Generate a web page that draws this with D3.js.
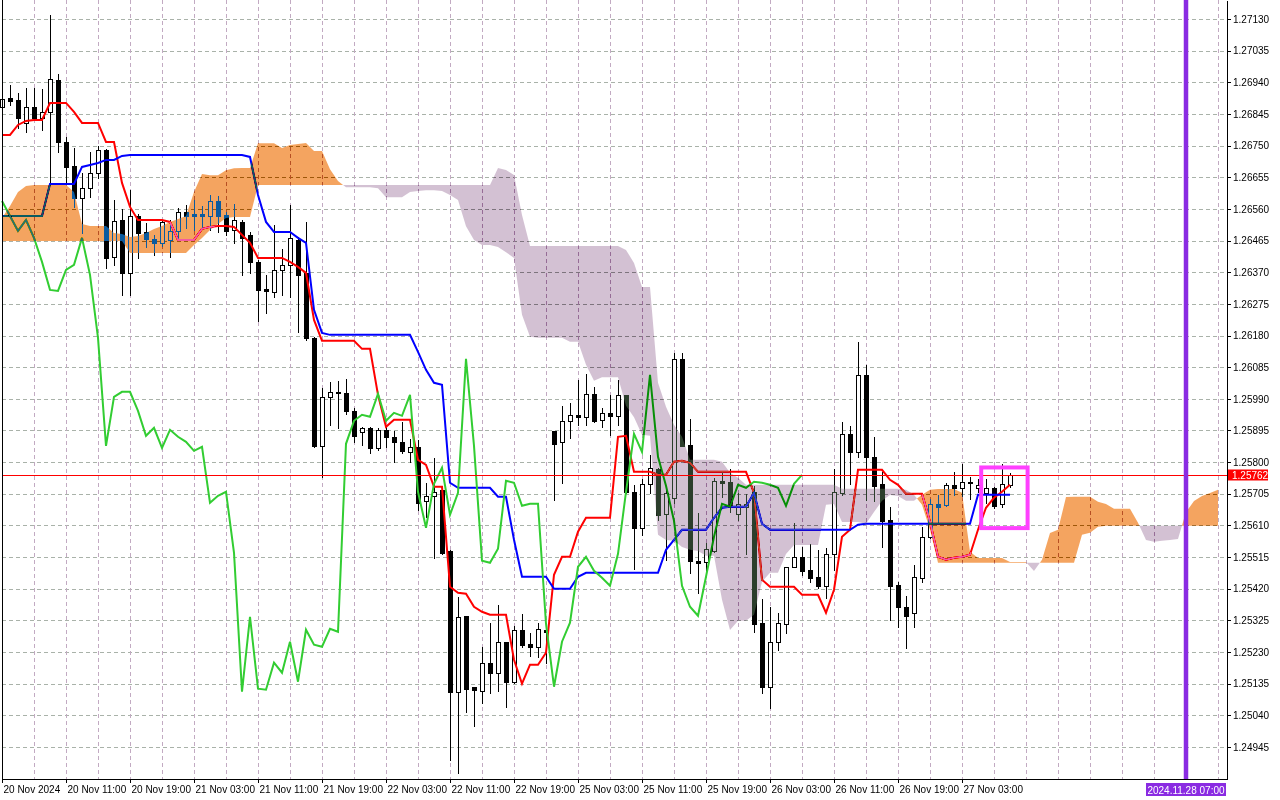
<!DOCTYPE html>
<html><head><meta charset="utf-8">
<script src="https://cdn.jsdelivr.net/npm/d3@7"></script>
<style>
html,body{margin:0;padding:0;background:#fff;}
svg{display:block;}
</style></head><body>
<svg id="chart" width="1280" height="800"></svg>
<script>
// ---------- DATA (H1 candles) ----------
const openP = [
126866,126893,126887,126818,126866,126833,126851,126947,126761,126689,
126593,126623,126668,126737,126416,126527,126368,126539,126491,126470,
126458,126467,126494,126551,126545,126545,126539,126584,126542,126497,
126521,126482,126401,126320,126311,126377,126392,126467,126368,126173,
125849,125996,126008,126008,125954,125891,125903,125843,125897,125876,
125861,125831,125846,125684,125699,125717,125534,125111,125339,125126,
125114,125198,125168,125261,125141,125297,125255,125246,125297,125894,
125861,125924,125942,125936,126005,125927,125948,125939,126002,125711,
125603,125735,125780,125645,125693,126110,125852,125504,125501,125534,
125744,125741,125645,125666,125711,125318,125126,125261,125315,125486,
125516,125477,125456,125429,125525,125708,125885,125831,126062,125816,
125735,125627,125432,125366,125348,125453,125576,125675,125672,125732,
125723,125741,125723,125708,125723,125675,125732].map(v=>v/100000);
const highP = [
126902,126932,126908,126923,126923,126920,127142,126965,126776,126743,
126668,126731,126749,126740,126587,126560,126617,126545,126518,126482,
126527,126527,126563,126572,126587,126569,126602,126599,126551,126575,
126527,126491,126407,126362,126512,126440,126572,126476,126521,126176,
126023,126041,126044,126050,125963,125906,125906,125903,125906,125894,
125921,125870,125867,125738,125813,125717,125537,125396,125339,125126,
125246,125318,125372,125261,125309,125345,125288,125318,125312,125894,
125969,125978,126047,126065,126026,125963,126002,126047,126002,125732,
125750,125822,125783,125717,126128,126128,125930,125648,125558,125753,
125771,125780,125708,125705,125729,125390,125366,125348,125486,125618,
125546,125555,125537,125543,125780,125921,125909,126161,126092,125876,
125771,125666,125441,125399,125492,125606,125690,125702,125738,125771,
125795,125756,125750,125750,125726,125795,125768].map(v=>v/100000);
const lowP = [
126857,126872,126803,126791,126827,126797,126632,126731,126638,126566,
126488,126596,126653,126383,126392,126302,126302,126413,126446,126422,
126449,126416,126467,126503,126497,126506,126497,126491,126482,126458,
126362,126368,126224,126248,126296,126302,126296,126191,126167,125846,
125756,125912,125903,125945,125861,125852,125828,125837,125846,125801,
125828,125801,125657,125636,125513,125525,124907,124868,125051,125009,
125078,125108,125114,125066,125138,125246,125219,125216,125198,125687,
125738,125873,125912,125912,125921,125906,125882,125912,125708,125480,
125582,125708,125627,125507,125678,125849,125468,125408,125468,125531,
125696,125651,125627,125525,125291,125108,125063,125237,125288,125486,
125462,125441,125423,125393,125477,125702,125735,125816,125687,125684,
125546,125327,125306,125243,125306,125441,125573,125621,125669,125702,
125699,125690,125711,125678,125663,125666,125726].map(v=>v/100000);
const closeP = [
126890,126884,126833,126866,126833,126851,126950,126761,126686,126593,
126623,126668,126737,126413,126524,126368,126539,126488,126470,126458,
126521,126494,126551,126539,126539,126539,126584,126539,126494,126527,
126473,126401,126317,126314,126377,126392,126473,126362,126173,125849,
125996,126011,126011,125954,125879,125903,125843,125897,125876,125861,
125834,125846,125678,125699,125711,125528,125111,125336,125120,125117,
125198,125168,125261,125141,125297,125252,125246,125300,125291,125855,
125924,125942,125936,126005,125924,125948,125939,126002,125711,125603,
125735,125783,125642,125708,126110,125849,125504,125498,125540,125744,
125738,125669,125675,125675,125315,125126,125261,125318,125486,125516,
125474,125453,125429,125525,125711,125885,125831,126062,125816,125729,
125624,125429,125366,125339,125456,125576,125675,125666,125732,125723,
125741,125738,125732,125723,125669,125735,125762].map(v=>v/100000);

// Tenkan-sen (red)
const tenkan = [
126782,126782,126812,126824,126827,126827,126878,126878,126878,126851,
126818,126818,126818,126761,126761,126638,126566,126527,126527,126527,
126527,126521,126467,126467,126467,126500,126506,126509,126509,126506,
126482,126458,126413,126413,126413,126413,126401,126386,126368,126227,
126164,126164,126164,126164,126164,126140,126140,126002,125906,125927,
125927,125927,125807,125792,125726,125726,125426,125408,125405,125366,
125351,125342,125342,125342,125207,125135,125192,125192,125228,125462,
125516,125516,125591,125633,125633,125633,125633,125876,125879,125771,
125771,125771,125762,125762,125801,125804,125798,125771,125771,125771,
125771,125771,125771,125771,125708,125447,125426,125426,125426,125426,
125402,125402,125402,125348,125417,125576,125597,125777,125777,125777,
125777,125747,125732,125705,125705,125705,125621,125516,125507,125513,
125516,125522,125597,125663,125693,125711,125732].map(v=>v/100000);
// Kijun-sen (blue)
const kijun = [
126539,126539,126539,126539,126539,126539,126635,126635,126635,126635,
126686,126692,126698,126707,126707,126719,126722,126722,126722,126722,
126722,126722,126722,126722,126722,126722,126722,126722,126722,126722,
126722,126716,126602,126521,126491,126491,126491,126473,126458,126257,
126188,126182,126182,126182,126182,126182,126182,126182,126182,126182,
126182,126182,126131,126077,126038,126032,125738,125723,125723,125723,
125723,125723,125696,125696,125567,125456,125456,125456,125456,125420,
125420,125420,125456,125468,125468,125468,125468,125468,125468,125468,
125468,125468,125468,125537,125567,125597,125597,125597,125597,125633,
125663,125666,125666,125666,125708,125615,125597,125597,125597,125597,
125597,125597,125597,125597,125597,125597,125597,125612,125615,125615,
125615,125615,125615,125615,125615,125615,125615,125615,125615,125615,
125615,125615,125702,125702,125702,125702,125702].map(v=>v/100000);
// Senkou Span A (cloud edge, 26 bars ahead)
const spanA = [
126533,126569,126611,126629,126632,126632,126632,126632,126632,126611,
126515,126509,126509,126509,126488,126485,126476,126479,126488,126500,
126509,126521,126530,126539,126611,126665,126661,126661,126676,126682,
126683,126683,126757,126757,126757,126743,126752,126755,126758,126734,
126734,126679,126644,126625,126625,126625,126625,126622,126595,126595,
126595,126611,126614,126616,126616,126614,126602,126587,126508,126467,
126452,126452,126446,126430,126413,126242,126176,126173,126173,126173,
126173,126161,126161,126092,126044,126055,126055,126055,125969,125935,
125882,125879,125582,125566,125564,125545,125537,125533,125519,125519,
125387,125296,125324,125324,125342,125441,125468,125468,125524,125551,
125551,125551,125551,125672,125674,125620,125620,125620,125615,125650,
125684,125701,125698,125684,125684,125702,125717,125719,125719,125719,
125708,125531,125512,125512,125512,125512,125500,125500,125500,125473,
125507,125587,125597,125695,125696,125696,125696,125681,125674,125660,
125660,125660,125618,125566,125561,125564,125566,125569,125650,125683,
125698,125707,125717].map(v=>v/100000);
// Senkou Span B
const spanB = [
126464,126464,126464,126464,126464,126464,126464,126464,126464,126464,
126464,126464,126464,126464,126464,126464,126428,126428,126428,126428,
126428,126428,126428,126428,126452,126473,126497,126515,126533,126536,
126536,126536,126632,126632,126632,126632,126632,126632,126632,126632,
126632,126632,126632,126632,126632,126632,126632,126632,126632,126632,
126632,126632,126632,126632,126632,126632,126632,126632,126632,126632,
126632,126632,126683,126677,126662,126542,126449,126449,126449,126449,
126449,126449,126449,126449,126449,126449,126449,126449,126437,126398,
126326,126326,126038,125966,125912,125876,125807,125807,125807,125807,
125801,125768,125753,125732,125732,125732,125732,125732,125732,125732,
125732,125732,125732,125732,125732,125720,125720,125720,125720,125720,
125720,125720,125720,125717,125702,125672,125597,125498,125498,125498,
125498,125498,125498,125498,125498,125498,125498,125498,125498,125498,
125498,125498,125498,125498,125498,125582,125588,125606,125609,125609,
125609,125609,125609,125609,125609,125609,125609,125609,125609,125609,
125609,125609,125609].map(v=>v/100000);

const priceTicks = [1.27130,1.27035,1.26940,1.26845,1.26750,1.26655,1.26560,1.26465,
  1.26370,1.26275,1.26180,1.26085,1.25990,1.25895,1.25800,1.25705,1.25610,1.25515,
  1.25420,1.25325,1.25230,1.25135,1.25040,1.24945];
const timeIdx = [0,8,16,24,32,40,48,56,64,72,80,88,96,104,112,120];
const timeText = ["20 Nov 2024","20 Nov 11:00","20 Nov 19:00","21 Nov 03:00","21 Nov 11:00",
  "21 Nov 19:00","22 Nov 03:00","22 Nov 11:00","22 Nov 19:00","25 Nov 03:00","25 Nov 11:00",
  "25 Nov 19:00","26 Nov 03:00","26 Nov 11:00","26 Nov 19:00","27 Nov 03:00"];
const currentPrice = 1.25762;
const markerIdx = 148, markerText = "2024.11.28 07:00";
const chikouShift = 26;

// ---------- SCALES ----------
const W = 1280, H = 800;
const x = d3.scaleLinear().domain([0, 152]).range([2, 1218]);
const y = d3.scaleLinear().domain([1.24849, 1.27187]).range([779, 0]);
const FONT = "'Liberation Sans', Arial, sans-serif";

const svg = d3.select("#chart");
svg.append("rect").attr("width", W).attr("height", H).attr("fill", "#fff");

// ---------- GRID ----------
const grid = svg.append("g").attr("shape-rendering","crispEdges");
grid.selectAll("line.h").data(priceTicks).join("line")
  .attr("x1", 2).attr("x2", 1227)
  .attr("y1", d => Math.round(y(d)) + 0.5).attr("y2", d => Math.round(y(d)) + 0.5)
  .attr("stroke", "#a9b2a9").attr("stroke-dasharray", "4,3");
grid.selectAll("line.v").data(d3.range(4, 153, 4)).join("line")
  .attr("x1", d => x(d) + 0.5).attr("x2", d => x(d) + 0.5)
  .attr("y1", 0).attr("y2", 779)
  .attr("stroke", "#c2aac2").attr("stroke-dasharray", "4,3");

// ---------- CANDLES ----------
const cg = svg.append("g").attr("shape-rendering","crispEdges");
openP.forEach((o, i) => {
  const c = closeP[i], hi = highP[i], lo = lowP[i];
  const cx = Math.round(x(i));
  cg.append("line").attr("x1", cx + 0.5).attr("x2", cx + 0.5)
    .attr("y1", Math.round(y(hi))).attr("y2", Math.round(y(lo)) + 1)
    .attr("stroke", "#000").attr("stroke-width", 1);
  const yt = Math.round(y(Math.max(o, c))), yb = Math.round(y(Math.min(o, c)));
  if (c > o) {
    cg.append("rect").attr("x", cx - 1.5).attr("y", yt + 0.5)
      .attr("width", 4).attr("height", Math.max(1, yb - yt))
      .attr("fill", "#fff").attr("stroke", "#000").attr("stroke-width", 1);
  } else {
    cg.append("rect").attr("x", cx - 2).attr("y", yt)
      .attr("width", 5).attr("height", Math.max(1, yb - yt + 1))
      .attr("fill", "#000");
  }
});

// ---------- LINES ----------
const line = d3.line().x((d, i) => x(i)).y(d => y(d));
svg.append("path").datum(tenkan).attr("d", line).attr("fill","none")
  .attr("stroke","#ff0000").attr("stroke-width",2);
svg.append("path").datum(kijun).attr("d", line).attr("fill","none")
  .attr("stroke","#0000ff").attr("stroke-width",2);
const chikou = closeP.slice(chikouShift);
svg.append("path").datum(chikou).attr("d", line).attr("fill","none")
  .attr("stroke","#32cd32").attr("stroke-width",2);

// ---------- CLOUD (XOR-like blend, as in the terminal) ----------
const pts = [];
for (let i = 0; i < spanA.length; i++) {
  pts.push({ i: i, a: spanA[i], b: spanB[i] });
  if (i < spanA.length - 1) {
    const d0 = spanA[i] - spanB[i], d1 = spanA[i + 1] - spanB[i + 1];
    if (d0 * d1 < 0) {
      const t = d0 / (d0 - d1);
      const v = spanA[i] + t * (spanA[i + 1] - spanA[i]);
      pts.push({ i: i + t, a: v, b: v });
    }
  }
}
const areaUp = d3.area().x(d => x(d.i)).y0(d => y(d.b)).y1(d => y(Math.max(d.a, d.b)));
const areaDn = d3.area().x(d => x(d.i)).y0(d => y(d.a)).y1(d => y(Math.max(d.a, d.b)));
svg.append("path").datum(pts).attr("d", areaUp)
  .attr("fill", "rgb(11,91,159)").style("mix-blend-mode", "difference");
svg.append("path").datum(pts).attr("d", areaDn)
  .attr("fill", "rgb(44,62,44)").style("mix-blend-mode", "difference");

// ---------- CURRENT PRICE LINE ----------
const yc = Math.round(y(currentPrice)) + 0.5;
svg.append("line").attr("x1", 2).attr("x2", 1227).attr("y1", yc).attr("y2", yc)
  .attr("stroke", "#ff0000").attr("stroke-width", 1).attr("shape-rendering","crispEdges");

// ---------- HIGHLIGHT BOX ----------
svg.append("rect")
  .attr("x", x(122.4)).attr("y", y(1.25784))
  .attr("width", x(128.2) - x(122.4)).attr("height", y(1.25602) - y(1.25784))
  .attr("fill", "none").attr("stroke", "#ff40ff").attr("stroke-width", 4);

// ---------- FUTURE MARKER LINE ----------
svg.append("line").attr("x1", x(markerIdx)).attr("x2", x(markerIdx))
  .attr("y1", 0).attr("y2", 779).attr("stroke", "#8a2be2").attr("stroke-width", 4.5);

// ---------- FRAME ----------
svg.append("line").attr("x1", 2.5).attr("x2", 2.5).attr("y1", 0).attr("y2", 780)
  .attr("stroke", "#000").attr("shape-rendering","crispEdges");
svg.append("line").attr("x1", 2).attr("x2", 1228).attr("y1", 779.5).attr("y2", 779.5)
  .attr("stroke", "#000").attr("shape-rendering","crispEdges");

// ---------- AXES ----------
const yAxis = d3.axisRight(y).tickValues(priceTicks).tickFormat(d3.format(".5f"))
  .tickSize(4).tickSizeOuter(0).tickPadding(2);
const ya = svg.append("g").attr("transform", "translate(1227,0)").call(yAxis);
ya.selectAll("text").attr("font-family", FONT).attr("font-size", 10).attr("fill", "#000");
ya.selectAll("line,path").attr("stroke", "#000").attr("shape-rendering","crispEdges");

const xAxis = d3.axisBottom(x).tickValues(timeIdx).tickFormat((d, i) => timeText[i])
  .tickSize(4).tickSizeOuter(0).tickPadding(3);
const xa = svg.append("g").attr("transform", "translate(0,779)").call(xAxis);
xa.select(".domain").remove();
xa.selectAll("text").attr("font-family", FONT).attr("font-size", 10).attr("fill", "#000")
  .attr("text-anchor", "start").attr("dx", "1");
xa.selectAll("line").attr("stroke", "#000").attr("shape-rendering","crispEdges");

// current price tag
svg.append("rect").attr("x", 1228).attr("y", yc - 6).attr("width", 40).attr("height", 11)
  .attr("fill", "#ff0000");
svg.append("text").attr("x", 1232).attr("y", yc + 3.5).text(d3.format(".5f")(currentPrice))
  .attr("font-family", FONT).attr("font-size", 10).attr("fill", "#fff");

// marker tag
svg.append("rect").attr("x", x(markerIdx) - 40).attr("y", 783).attr("width", 80).attr("height", 13)
  .attr("fill", "#8a2be2");
svg.append("text").attr("x", x(markerIdx)).attr("y", 793.5).attr("text-anchor", "middle")
  .text(markerText).attr("font-family", FONT).attr("font-size", 10).attr("fill", "#fff");
</script>
</body></html>
